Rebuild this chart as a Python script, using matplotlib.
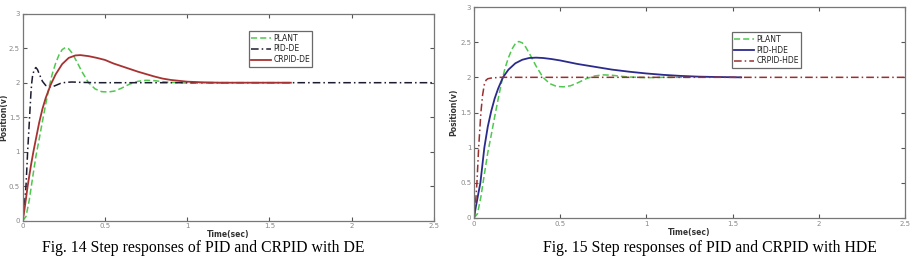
import matplotlib
matplotlib.use("Agg")
import matplotlib.pyplot as plt

# ---- data ----
plant_t = [0, 0.02, 0.04, 0.06, 0.08, 0.10, 0.12, 0.14, 0.16, 0.18, 0.20, 0.22, 0.24, 0.26,
           0.28, 0.30, 0.33, 0.36, 0.40, 0.44, 0.48, 0.52, 0.56, 0.60, 0.65, 0.70, 0.75,
           0.80, 0.85, 0.90, 1.0, 1.1, 1.25]
plant_v = [0, 0.06, 0.30, 0.62, 0.93, 1.18, 1.44, 1.69, 1.93, 2.13, 2.28, 2.40, 2.48, 2.51,
           2.49, 2.43, 2.30, 2.16, 2.00, 1.91, 1.87, 1.865, 1.88, 1.92, 1.98, 2.02, 2.035,
           2.03, 2.015, 2.005, 1.995, 2.0, 2.0]

pid_de_t = [0, 0.01, 0.02, 0.03, 0.04, 0.05, 0.055, 0.06, 0.07, 0.08, 0.09, 0.10, 0.12,
            0.14, 0.16, 0.18, 0.20, 0.23, 0.26, 0.30, 0.35, 0.45, 0.6, 2.5]
pid_de_v = [0, 0.2, 0.5, 1.0, 1.42, 1.85, 2.0, 2.1, 2.19, 2.22, 2.19, 2.13, 2.02,
            1.96, 1.94, 1.94, 1.96, 1.99, 2.005, 2.01, 2.005, 2.0, 2.0, 2.0]

crpid_de_t = [0, 0.01, 0.02, 0.03, 0.05, 0.065, 0.08, 0.10, 0.12, 0.14, 0.17, 0.20, 0.24,
              0.28, 0.32, 0.35, 0.40, 0.45, 0.5, 0.55, 0.6, 0.7, 0.8, 0.85, 0.9, 1.0, 1.1,
              1.2, 1.4, 1.63]
crpid_de_v = [0, 0.15, 0.32, 0.5, 0.8, 1.0, 1.18, 1.42, 1.62, 1.78, 1.97, 2.12, 2.27,
              2.36, 2.395, 2.40, 2.385, 2.36, 2.33, 2.28, 2.24, 2.16, 2.09, 2.06, 2.04,
              2.015, 2.005, 2.0, 2.0, 2.0]

pid_hde_t = [0, 0.01, 0.02, 0.037, 0.06, 0.08, 0.10, 0.12, 0.14, 0.168, 0.2, 0.24, 0.28,
             0.32, 0.36, 0.40, 0.45, 0.5, 0.6, 0.7, 0.8, 0.9, 1.0, 1.1, 1.2, 1.3, 1.4, 1.55]
pid_hde_v = [0, 0.15, 0.28, 0.5, 1.0, 1.3, 1.52, 1.7, 1.84, 2.0, 2.11, 2.2, 2.25,
             2.275, 2.28, 2.275, 2.26, 2.24, 2.19, 2.15, 2.11, 2.08, 2.055, 2.035, 2.02,
             2.01, 2.005, 2.0]

crpid_hde_t = [0, 0.005, 0.01, 0.017, 0.027, 0.04, 0.05, 0.06, 0.07, 0.08, 0.1, 0.15, 0.3, 2.5]
crpid_hde_v = [0, 0.1, 0.25, 0.5, 1.0, 1.5, 1.75, 1.9, 1.96, 1.98, 1.99, 2.0, 2.0, 2.0]

x_ticks = [0, 0.5, 1, 1.5, 2, 2.5]
x_ticklabels = ["0", "0.5", "1", "1.5", "2", "2.5"]
y_ticks = [0, 0.5, 1, 1.5, 2, 2.5, 3]
y_ticklabels = ["0", "0.5", "1", "1.5", "2", "2.5", "3"]
captions = ["Fig. 14 Step responses of PID and CRPID with DE",
            "Fig. 15 Step responses of PID and CRPID with HDE"]

W, H = 913, 258
fig = plt.figure(figsize=(W / 100, H / 100), dpi=100)

def px(x0, y_top, x1, y_bot):
    return [x0 / W, 1 - y_bot / H, (x1 - x0) / W, (y_bot - y_top) / H]

ax1 = fig.add_axes(px(22.7, 13.7, 434, 220.7))
ax2 = fig.add_axes(px(474, 7, 905, 218))

green = "#4fc84f"
for ax in (ax1, ax2):
    ax.set_xlim(0, 2.5)
    ax.set_ylim(0, 3)
    ax.set_xticks(x_ticks)
    ax.set_xticklabels(x_ticklabels)
    ax.set_yticks(y_ticks)
    ax.set_yticklabels(y_ticklabels)
    ax.tick_params(direction="in", top=True, right=True, length=3, width=0.8,
                   colors="#555555", labelsize=5, labelcolor="#888888", pad=2)
    for s in ax.spines.values():
        s.set_color("#777777")
        s.set_linewidth(0.9)
    ax.set_xlabel("Time(sec)", fontsize=5.5, fontweight="bold", color="#333333")
    ax.set_ylabel("Position(v)", fontsize=5.5, fontweight="bold", color="#333333")

ax1.yaxis.set_label_coords(-0.036, 0.5)
ax2.yaxis.set_label_coords(-0.036, 0.5)
ax1.xaxis.set_label_coords(0.5, -0.044)
ax2.xaxis.set_label_coords(0.5, -0.046)

ax1.plot(plant_t, plant_v, color=green, ls=(0, (4, 2)), lw=1.1, label="PLANT")
ax1.plot(pid_de_t, pid_de_v, color="#1c1c30", ls=(0, (5, 2, 1, 2)), lw=1.1, label="PID-DE")
ax1.plot(crpid_de_t, crpid_de_v, color="#a83232", ls="-", lw=1.3, label="CRPID-DE")

ax2.plot(plant_t, plant_v, color=green, ls=(0, (4, 2)), lw=1.1, label="PLANT")
ax2.plot(pid_hde_t, pid_hde_v, color="#2b2b8c", ls="-", lw=1.3, label="PID-HDE")
ax2.plot(crpid_hde_t, crpid_hde_v, color="#9a2f2f", ls=(0, (5, 2, 1, 2)), lw=1.1, label="CRPID-HDE")

for ax, anchor in ((ax1, (0.55, 0.915)), (ax2, (0.599, 0.88))):
    leg = ax.legend(loc="upper left", bbox_to_anchor=anchor, fontsize=5.5, frameon=True,
                    fancybox=False, edgecolor="#444444", handlelength=2.6, handletextpad=0.3,
                    borderpad=0.3, labelspacing=0.25, borderaxespad=0)
    leg.get_frame().set_linewidth(0.9)
    for t in leg.get_texts():
        t.set_color("#222222")

fig.text(203 / W, 1 - 248.5 / H, captions[0], family="Liberation Serif", fontsize=11.3,
         ha="center", va="center", color="black")
fig.text(710 / W, 1 - 248.5 / H, captions[1], family="Liberation Serif", fontsize=11.3,
         ha="center", va="center", color="black")

fig.savefig("out.png", dpi=100)
